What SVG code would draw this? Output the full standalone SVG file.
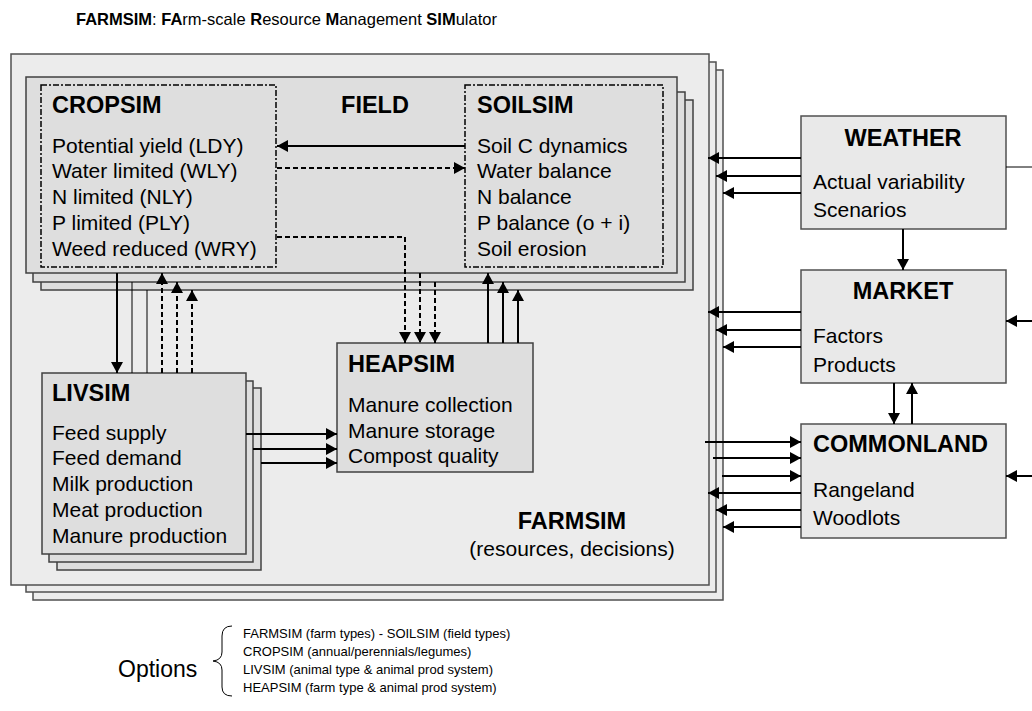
<svg xmlns="http://www.w3.org/2000/svg" width="1032" height="711" viewBox="0 0 1032 711">
<style>
text{font-family:"Liberation Sans",Arial,sans-serif;fill:#000}
.h{font-size:23.5px;font-weight:bold}
.b{font-size:21px}
.farm{fill:#ececec;stroke:#505050;stroke-width:1.5}
.fld{fill:#dedede;stroke:#404040;stroke-width:1.5}
.ext{fill:#e9e9e9;stroke:#505050;stroke-width:1.5}
.dd{fill:none;stroke:#000;stroke-width:1.5;stroke-dasharray:6,2,2,2}
.s{fill:none;stroke:#000;stroke-width:2}
.d{fill:none;stroke:#000;stroke-width:2;stroke-dasharray:5,3}
.t{fill:none;stroke:#000;stroke-width:1}
.o{font-size:13px}
</style>
<defs>
<marker id="ah" markerUnits="userSpaceOnUse" markerWidth="11" markerHeight="12" refX="11" refY="6" orient="auto">
<path d="M0,0 L11,6 L0,12 z" fill="#000"/>
</marker>
</defs>
<rect width="1032" height="711" fill="#fff"/>
<text x="76" y="25" style="font-size:16.5px"><tspan font-weight="bold">FARMSIM</tspan>: <tspan font-weight="bold">FA</tspan>rm-scale <tspan font-weight="bold">R</tspan>esource <tspan font-weight="bold">M</tspan>anagement <tspan font-weight="bold">SIM</tspan>ulator</text>

<g id="farmsim">
<rect class="farm" x="33" y="70" width="690" height="530"/>
<rect class="farm" x="26" y="62" width="690" height="530"/>
<rect class="farm" x="11" y="54" width="698" height="531"/>
<text class="h" x="572" y="529" text-anchor="middle">FARMSIM</text>
<text class="b" x="572" y="556" text-anchor="middle">(resources, decisions)</text>
</g>

<g id="field">
<rect class="fld" x="41" y="100" width="652" height="190"/>
<rect class="fld" x="33" y="92" width="652" height="190"/>
<rect class="fld" x="26" y="77" width="651" height="196"/>
<text class="h" x="375" y="113" text-anchor="middle">FIELD</text>
</g>

<g id="cropsim">
<rect class="dd" x="41" y="85" width="235" height="182"/>
<text class="h" x="52" y="113">CROPSIM</text>
<text class="b" x="52" y="153">Potential yield (LDY)</text>
<text class="b" x="52" y="178">Water limited (WLY)</text>
<text class="b" x="52" y="204">N limited (NLY)</text>
<text class="b" x="52" y="230">P limited (PLY)</text>
<text class="b" x="52" y="256">Weed reduced (WRY)</text>
</g>

<g id="soilsim">
<rect class="dd" x="465" y="85" width="198" height="182"/>
<text class="h" x="477" y="113">SOILSIM</text>
<text class="b" x="477" y="153">Soil C dynamics</text>
<text class="b" x="477" y="178">Water balance</text>
<text class="b" x="477" y="204">N balance</text>
<text class="b" x="477" y="230">P balance (o + i)</text>
<text class="b" x="477" y="256">Soil erosion</text>
</g>

<g id="livsim">
<rect class="fld" x="57" y="388" width="204" height="182"/>
<rect class="fld" x="49" y="381" width="204" height="181"/>
<rect class="fld" x="42" y="373" width="204" height="181"/>
<text class="h" x="52" y="401">LIVSIM</text>
<text class="b" x="52" y="440">Feed supply</text>
<text class="b" x="52" y="465">Feed demand</text>
<text class="b" x="52" y="491">Milk production</text>
<text class="b" x="52" y="517">Meat production</text>
<text class="b" x="52" y="543">Manure production</text>
</g>

<g id="heapsim">
<rect class="fld" x="337" y="343" width="196" height="129"/>
<text class="h" x="348" y="372">HEAPSIM</text>
<text class="b" x="348" y="412">Manure collection</text>
<text class="b" x="348" y="438">Manure storage</text>
<text class="b" x="348" y="463">Compost quality</text>
</g>

<g id="weather">
<rect class="ext" x="801" y="116" width="205" height="113"/>
<text class="h" x="903" y="146" text-anchor="middle">WEATHER</text>
<text class="b" x="813" y="189">Actual variability</text>
<text class="b" x="813" y="217">Scenarios</text>
</g>

<g id="market">
<rect class="ext" x="801" y="270" width="205" height="113"/>
<text class="h" x="903" y="299" text-anchor="middle">MARKET</text>
<text class="b" x="813" y="343">Factors</text>
<text class="b" x="813" y="372">Products</text>
</g>

<g id="commonland">
<rect class="ext" x="801" y="424" width="205" height="114"/>
<text class="h" x="813" y="452">COMMONLAND</text>
<text class="b" x="813" y="497">Rangeland</text>
<text class="b" x="813" y="525">Woodlots</text>
</g>

<g id="connectors">
<line class="s" x1="465" y1="146" x2="277" y2="146" marker-end="url(#ah)"/>
<line class="d" x1="277" y1="168" x2="465" y2="168" marker-end="url(#ah)"/>
<path class="d" d="M277,237 H405 V343" marker-end="url(#ah)"/>
<line class="d" x1="420" y1="273" x2="420" y2="343" marker-end="url(#ah)"/>
<line class="d" x1="435" y1="282" x2="435" y2="343" marker-end="url(#ah)"/>
<line class="s" x1="488" y1="343" x2="488" y2="273" marker-end="url(#ah)"/>
<line class="s" x1="503" y1="343" x2="503" y2="282" marker-end="url(#ah)"/>
<line class="s" x1="518" y1="343" x2="518" y2="290" marker-end="url(#ah)"/>
<line class="s" x1="117" y1="273" x2="117" y2="373" marker-end="url(#ah)"/>
<line class="t" x1="132" y1="282" x2="132" y2="373"/>
<line class="t" x1="147" y1="290" x2="147" y2="373"/>
<line class="d" x1="162" y1="373" x2="162" y2="273" marker-end="url(#ah)"/>
<line class="d" x1="177" y1="373" x2="177" y2="282" marker-end="url(#ah)"/>
<line class="d" x1="192" y1="373" x2="192" y2="290" marker-end="url(#ah)"/>
<line class="s" x1="246" y1="434" x2="337" y2="434" marker-end="url(#ah)"/>
<line class="s" x1="253" y1="449" x2="337" y2="449" marker-end="url(#ah)"/>
<line class="s" x1="261" y1="463" x2="337" y2="463" marker-end="url(#ah)"/>
<line class="s" x1="801" y1="158" x2="708" y2="158" marker-end="url(#ah)"/>
<line class="s" x1="801" y1="176" x2="716" y2="176" marker-end="url(#ah)"/>
<line class="s" x1="801" y1="193" x2="723" y2="193" marker-end="url(#ah)"/>
<line class="t" x1="1006" y1="167" x2="1032" y2="167"/>
<line class="s" x1="903" y1="229" x2="903" y2="270" marker-end="url(#ah)"/>
<line class="s" x1="801" y1="312" x2="708" y2="312" marker-end="url(#ah)"/>
<line class="s" x1="801" y1="330" x2="716" y2="330" marker-end="url(#ah)"/>
<line class="s" x1="801" y1="347" x2="723" y2="347" marker-end="url(#ah)"/>
<line class="s" x1="1032" y1="321" x2="1006" y2="321" marker-end="url(#ah)"/>
<line class="s" x1="894" y1="383" x2="894" y2="424" marker-end="url(#ah)"/>
<line class="s" x1="912" y1="424" x2="912" y2="383" marker-end="url(#ah)"/>
<line class="s" x1="705" y1="442" x2="801" y2="442" marker-end="url(#ah)"/>
<line class="s" x1="713" y1="458" x2="801" y2="458" marker-end="url(#ah)"/>
<line class="s" x1="722" y1="476" x2="801" y2="476" marker-end="url(#ah)"/>
<line class="s" x1="801" y1="493" x2="708" y2="493" marker-end="url(#ah)"/>
<line class="s" x1="801" y1="510" x2="716" y2="510" marker-end="url(#ah)"/>
<line class="s" x1="801" y1="527" x2="723" y2="527" marker-end="url(#ah)"/>
<line class="s" x1="1032" y1="476" x2="1006" y2="476" marker-end="url(#ah)"/>
</g>

<g id="options">
<text x="118" y="677" style="font-size:23px">Options</text>
<path class="t" d="M232,626 Q222,626 222,636 V652 Q222,660 213,661 Q222,662 222,670 V687 Q222,696 232,696"/>
<text class="o" x="243" y="638">FARMSIM (farm types) - SOILSIM (field types)</text>
<text class="o" x="243" y="656">CROPSIM (annual/perennials/legumes)</text>
<text class="o" x="243" y="674">LIVSIM (animal type &amp; animal prod system)</text>
<text class="o" x="243" y="692">HEAPSIM (farm type &amp; animal prod system)</text>
</g>
</svg>
